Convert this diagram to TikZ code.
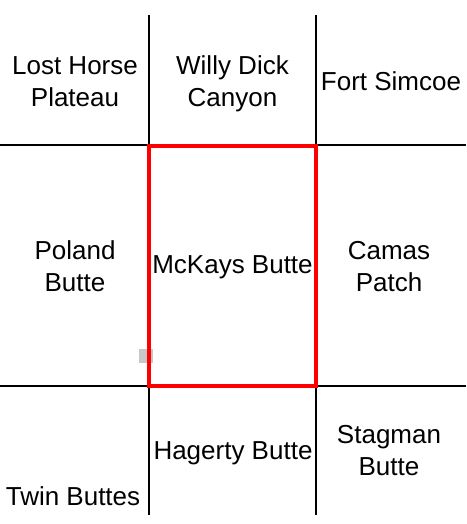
\documentclass[tikz,border=0pt]{standalone}
\usepackage{fontspec}
\setmainfont{Liberation Sans}
\usetikzlibrary{positioning}
\definecolor{focusred}{HTML}{FF0000}
\definecolor{markgray}{HTML}{C8C8C8}

\begin{document}
\begin{tikzpicture}[x=1pt,y=-1pt,
    quad/.style={align=center,font=\fontsize{26}{32}\selectfont,inner sep=0pt},
    grid/.style={line width=2pt,black},
    focus/.style={line width=4pt,focusred}
]
\useasboundingbox (0,0) rectangle (466,524);

\coordinate (vl1) at (149,15);
\coordinate (vl2) at (149,515);
\coordinate (vr1) at (316,15);
\coordinate (vr2) at (316,515);
\coordinate (ht1) at (0,145);
\coordinate (ht2) at (466,145);
\coordinate (hb1) at (0,385.5);
\coordinate (hb2) at (466,385.5);

\node[quad] (losthorse) at (75,81.5) {Lost Horse\\Plateau};
\node[quad] (willydick) at (232.5,84) {Willy Dick\\Canyon};
\node[quad] (fortsimcoe) at (391,81.5) {Fort Simcoe};
\node[quad] (poland) at (75,266.5) {Poland\\Butte};
\node[quad] (mckays) at (232.5,267.5) {McKays Butte};
\node[quad] (camas) at (389,266.5) {Camas\\Patch};
\node[quad,anchor=base] (twin) at (73,505) {Twin Buttes};
\node[quad] (hagerty) at (233,453) {Hagerty Butte};
\node[quad] (stagman) at (389,451) {Stagman\\Butte};

\draw[grid] (vl1) -- (vl2);
\draw[grid] (vr1) -- (vr2);
\draw[grid] (ht1) -- (ht2);
\draw[grid] (hb1) -- (hb2);

\fill[markgray] (139,349) rectangle (153,363);
\draw[focus] (149,145.5) rectangle (316,385.5);
\end{tikzpicture}
\end{document}
